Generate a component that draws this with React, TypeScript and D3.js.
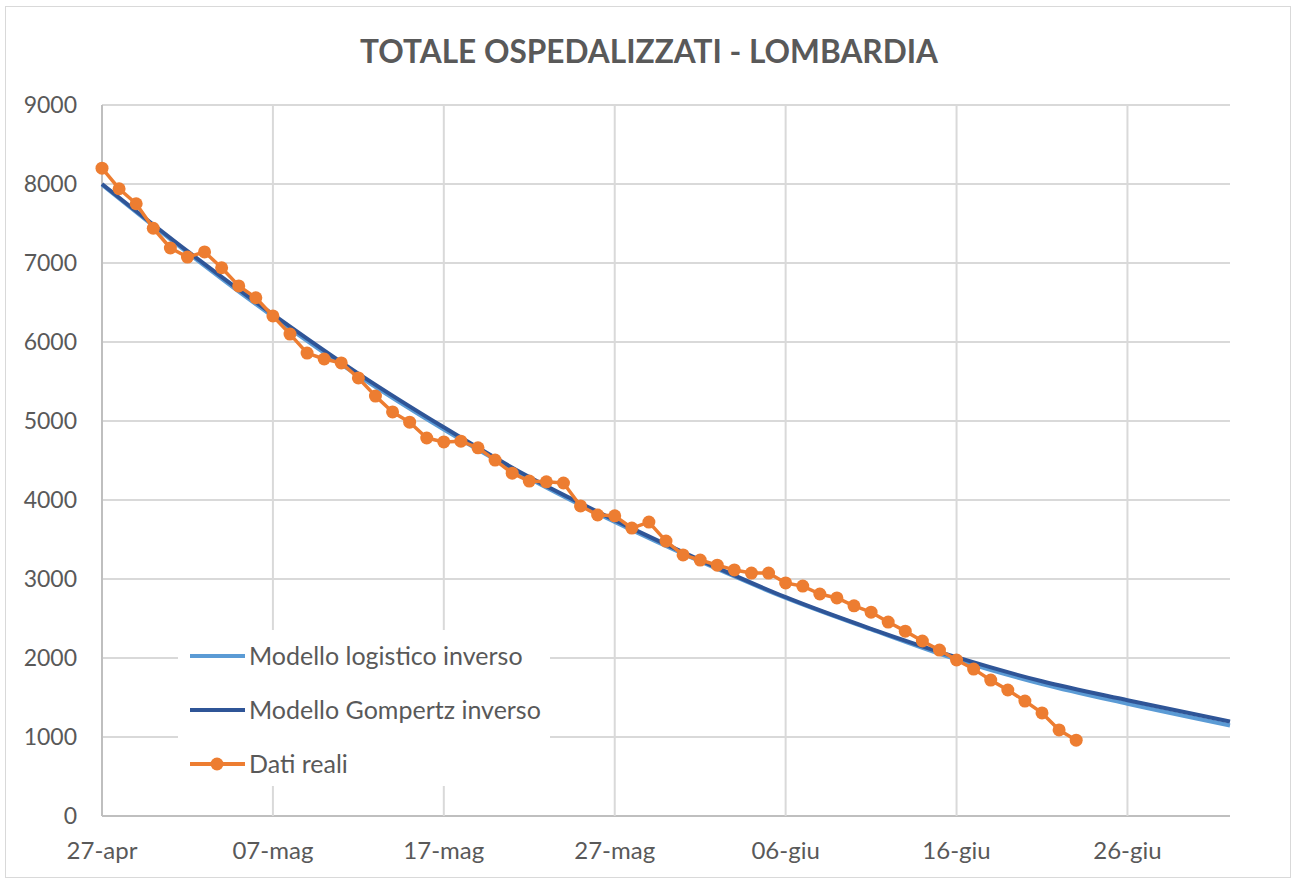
import * as d3 from "d3";

// dati (totale ospedalizzati Lombardia)
const startDate = new Date(2020, 3, 27);
const endDate = new Date(2020, 6, 2);

const datiReali = [
  8200, 7940, 7750, 7440, 7190, 7075, 7140, 6940, 6710, 6560,
  6330, 6100, 5860, 5785, 5735, 5545, 5315, 5115, 4985, 4785,
  4735, 4745, 4660, 4505, 4340, 4240, 4230, 4215, 3925, 3810,
  3800, 3645, 3720, 3480, 3305, 3240, 3175, 3115, 3075, 3075,
  2950, 2910, 2810, 2760, 2660, 2580, 2455, 2340, 2215, 2100,
  1975, 1860, 1720, 1595, 1455, 1305, 1090, 960,
];

// giorni dal 27-apr in cui sono letti i due modelli
const giorniModello = [0, 5, 10, 15, 20, 25, 30, 35, 40, 45, 50, 55, 60, 66];
const logisticoInverso = [8010, 7150, 6340, 5590, 4910, 4290, 3740, 3240, 2780, 2380, 2000, 1690, 1440, 1165];
const gompertzInverso = [8000, 7150, 6350, 5600, 4920, 4290, 3745, 3240, 2770, 2370, 2010, 1705, 1465, 1195];

const tickDays = [0, 10, 20, 30, 40, 50, 60];
const tickLabels = ["27-apr", "07-mag", "17-mag", "27-mag", "06-giu", "16-giu", "26-giu"];
const yTicks = [0, 1000, 2000, 3000, 4000, 5000, 6000, 7000, 8000, 9000];

const legendItems = [
  { label: "Modello logistico inverso", color: "#5B9BD5", marker: false },
  { label: "Modello Gompertz inverso", color: "#2F5597", marker: false },
  { label: "Dati reali", color: "#ED7D31", marker: true },
];

const W = 1292;
const H = 879;
const font = "Lato, 'Open Sans', sans-serif";

const addDays = (n: number) => d3.timeDay.offset(startDate, n);

export default function App() {
  const x = d3.scaleTime().domain([startDate, endDate]).range([102, 1230]);
  const y = d3.scaleLinear().domain([0, 9000]).range([816, 105]);

  const modelLine = d3
    .line<number>()
    .x((_, i) => x(addDays(giorniModello[i])))
    .y((d) => y(d))
    .curve(d3.curveMonotoneX);

  const realLine = d3
    .line<number>()
    .x((_, i) => x(addDays(i)))
    .y((d) => y(d));

  return (
    <svg width={W} height={H} style={{ position: "absolute", left: 0, top: 0 }} fontFamily={font}>
      <rect x={0} y={0} width={W} height={H} fill="#fff" />
      <rect x={5.5} y={6.5} width={1285} height={871} fill="none" stroke="#d9d9d9" />
      <text x={649} y={63} textAnchor="middle" fontSize={33} fontWeight="bold" fill="#595959"
        textLength={578} lengthAdjust="spacingAndGlyphs">
        TOTALE OSPEDALIZZATI - LOMBARDIA
      </text>

      {yTicks.map((t) => (
        <g key={t}>
          <line x1={102} x2={1230} y1={y(t)} y2={y(t)} stroke={t === 0 ? "#bfbfbf" : "#d9d9d9"} strokeWidth={2} />
          <text x={77} y={y(t) + 8} textAnchor="end" fontSize={23} fill="#595959">
            {t}
          </text>
        </g>
      ))}
      {tickDays.map((d, i) => (
        <g key={d}>
          <line x1={x(addDays(d))} x2={x(addDays(d))} y1={105} y2={816} stroke={i === 0 ? "#bfbfbf" : "#d9d9d9"} strokeWidth={2} />
          <text x={x(addDays(d))} y={859} textAnchor="middle" fontSize={24} fill="#595959">
            {tickLabels[i]}
          </text>
        </g>
      ))}

      <path d={modelLine(logisticoInverso) ?? ""} fill="none" stroke="#5B9BD5" strokeWidth={4} transform="translate(0,1.5)" />
      <path d={modelLine(gompertzInverso) ?? ""} fill="none" stroke="#2F5597" strokeWidth={4} />
      <path d={realLine(datiReali) ?? ""} fill="none" stroke="#ED7D31" strokeWidth={3.5} strokeLinejoin="round" />
      {datiReali.map((v, i) => (
        <circle key={i} cx={x(addDays(i))} cy={y(v)} r={6.5} fill="#ED7D31" />
      ))}

      <rect x={178} y={630} width={372} height={156} fill="#fff" />
      {legendItems.map((item, i) => {
        const ly = 656 + i * 54;
        return (
          <g key={item.label}>
            <line x1={190} x2={245} y1={ly} y2={ly} stroke={item.color} strokeWidth={4} />
            {item.marker && <circle cx={217} cy={ly} r={6.5} fill={item.color} />}
            <text x={249} y={ly + 9} fontSize={25} fill="#595959">
              {item.label}
            </text>
          </g>
        );
      })}
    </svg>
  );
}
